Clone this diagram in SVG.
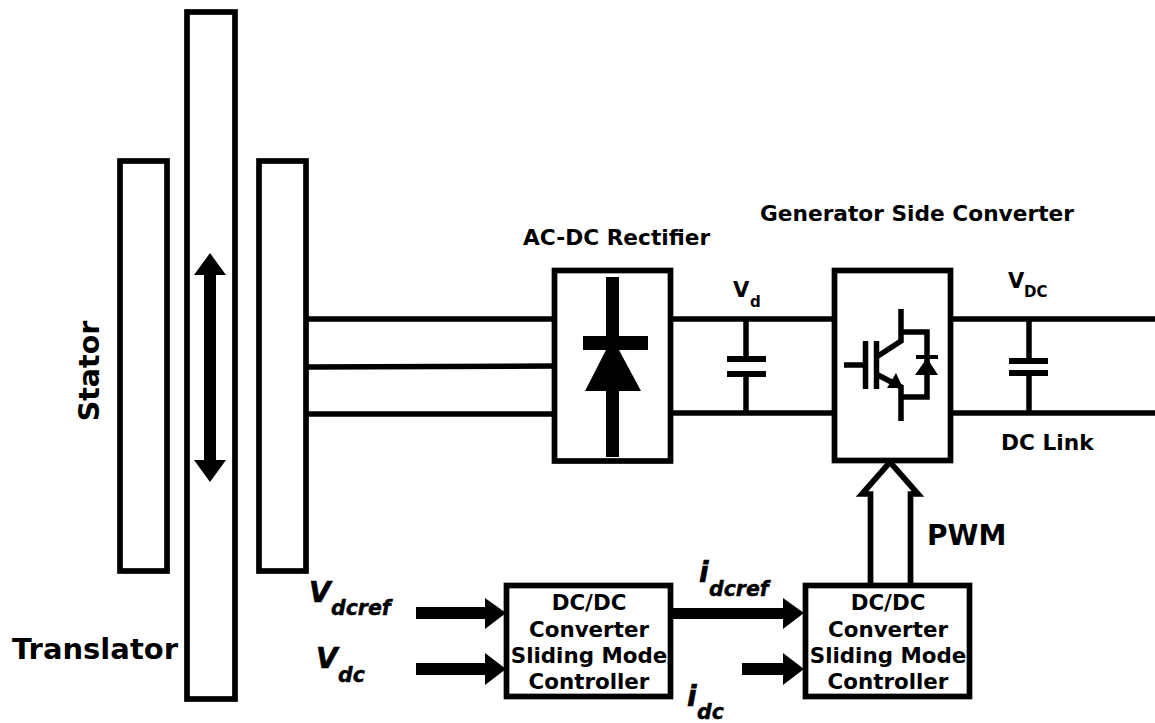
<svg xmlns="http://www.w3.org/2000/svg" width="1155" height="723" viewBox="0 0 1155 723">
<style>
text{font-family:"DejaVu Sans",sans-serif;font-weight:bold;fill:#000}
.b{fill:#fff;stroke:#000;stroke-width:5.700}
.w{fill:none;stroke:#000;stroke-width:5.500}
.t{font-size:21.400px;text-anchor:middle}
.v{font-size:28px;font-style:italic;stroke:#000;stroke-width:.6}
.s{font-size:20.500px;font-style:italic;stroke:#000;stroke-width:.4}
.l{font-size:21.700px}
</style>
<rect width="1155" height="723" fill="#fff"/>
<g id="connectors">
<path class="w" d="M307 319H555M307 367L555 366M307 414H555M672 319H834M672 413H834M950 319H1155M950 413H1155"/>
<path class="w" d="M746 319V356M746 376V413M1029 319V360M1029 374V413"/>
<path fill="#000" d="M416 607H485V598L506 613L485 629V619H416ZM416 663H485V653L506 669L485 685V675H416ZM672 608H783V598L804 613L783 629V619H672ZM742 663H783V653L804 669L783 685V675H742Z"/>
</g>
<g id="stator"><rect class="b" x="120" y="161" width="47" height="410"/><text transform="translate(99 371) rotate(-90)" text-anchor="middle" font-size="28.500">Stator</text></g>
<g id="translator"><rect class="b" x="187" y="12" width="48" height="687"/><path fill="#000" d="M210 253L226 275H216V460H226L210 482L194 460H204V275H194Z"/><text x="12" y="659" font-size="29">Translator</text></g>
<g id="stator2"><rect class="b" x="259" y="161" width="47" height="410"/></g>
<g id="rectifier"><rect class="b" x="554.500" y="270.500" width="116" height="190.500"/><path fill="#000" d="M606 277H619V336H648V350H619L641 391H619V457H606V391H585L606 350H583V336H606Z"/><text x="523" y="245" class="l">AC-DC Rectifier</text></g>
<g id="cap1"><path fill="#000" d="M727 356H766V362H727ZM727 371H766V377H727Z"/><text x="733" y="297" font-size="21">V</text><text x="750" y="307" font-size="15">d</text></g>
<g id="converter"><rect class="b" x="834.500" y="270.500" width="116" height="190"/>
<path class="w" stroke-width="5" d="M844 365H863M865.500 341V389M876.500 341V389M878 356L901 341V309M901 421V387L878 375M902 332H927V397H902"/>
<path fill="#000" d="M915 375H938L927 358ZM916 355H938V359H916ZM887 388L896 373L903 388Z"/>
<text x="760" y="221" class="l">Generator Side Converter</text></g>
<g id="cap2"><path fill="#000" d="M1009 358H1048V364H1009ZM1009 370H1048V376H1009Z"/><text x="1008" y="288" font-size="21">V</text><text x="1024" y="297" font-size="15">DC</text><text x="1001" y="450" class="l">DC Link</text></g>
<g id="pwm"><path class="b" d="M870.500 585V494H862L890 462L918 494H910.500V585"/><text x="927" y="545" font-size="28">PWM</text></g>
<g id="ctrl1"><rect class="b" x="506.500" y="585.500" width="164" height="111"/><text class="t" x="589" y="610">DC/DC</text><text class="t" x="589" y="637">Converter</text><text class="t" x="589" y="663">Sliding Mode</text><text class="t" x="589" y="689">Controller</text></g>
<g id="ctrl2"><rect class="b" x="805.500" y="585.500" width="164" height="111"/><text class="t" x="888" y="610">DC/DC</text><text class="t" x="888" y="637">Converter</text><text class="t" x="888" y="663">Sliding Mode</text><text class="t" x="888" y="689">Controller</text></g>
<g id="labels"><text class="v" x="309" y="602">V</text><text class="s" x="331" y="615">dcref</text><text class="v" x="316" y="668">V</text><text class="s" x="338" y="682">dc</text><text class="v" x="699" y="582">i</text><text class="s" x="709" y="596">dcref</text><text class="v" x="687" y="706">i</text><text class="s" x="697" y="719">dc</text></g>
</svg>
